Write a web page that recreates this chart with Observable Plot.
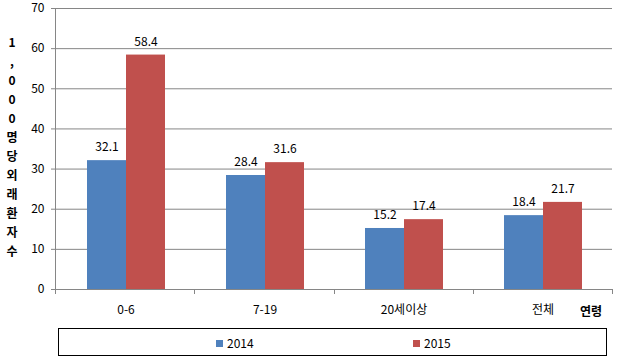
<!DOCTYPE html>
<html>
<head>
<meta charset="utf-8">
<script src="https://cdn.jsdelivr.net/npm/d3@7"></script>
<script src="https://cdn.jsdelivr.net/npm/@observablehq/plot@0.6"></script>
<style>
  body { margin: 0; background: #fff; }
  #wrap { position: relative; width: 618px; height: 361px; font-family: "Noto Sans CJK KR", "Noto Sans", sans-serif; }
  #ytitle { position: absolute; left: 4px; top: 32px; width: 16px; text-align: center; font-weight: bold; font-size: 12px; line-height: 19px; }
  #xlabel { position: absolute; left: 580px; top: 302px; font-weight: bold; font-size: 12px; }
  #legend { position: absolute; left: 58px; top: 328px; width: 549px; height: 28px; border: 1px solid #000; box-sizing: border-box; font-size: 12px; }
  .item { position: absolute; top: 6px; line-height: 16px; }
  .sw { display: inline-block; width: 7px; height: 7px; margin-right: 4px; vertical-align: 1px; }
</style>
</head>
<body>
<div id="wrap">
  <div id="chart"></div>
  <div id="ytitle"></div>
  <div id="xlabel"></div>
  <div id="legend"></div>
</div>
<script>
const categories = ["0-6", "7-19", "20세이상", "전체"];
const years = ["2014", "2015"];
const values2014 = [32.1, 28.4, 15.2, 18.4];
const values2015 = [58.4, 31.6, 17.4, 21.7];
const yTicks = [0, 10, 20, 30, 40, 50, 60, 70];
const colors = ["#4F81BD", "#C0504D"];
const yTitle = "1,000명당외래환자수";
const xTitle = "연령";

const data = categories.flatMap((c, i) => [
  {cat: c, year: years[0], value: values2014[i]},
  {cat: c, year: years[1], value: values2015[i]}
]);

const plot = Plot.plot({
  width: 618,
  height: 322,
  marginLeft: 55,
  marginRight: 6,
  marginTop: 8,
  marginBottom: 33,
  style: {fontFamily: "'Noto Sans CJK KR', 'Noto Sans', sans-serif", fontSize: "12px", background: "white", overflow: "visible"},
  fx: {domain: categories, padding: 0},
  x: {domain: years, paddingInner: 0, paddingOuter: 0.74, axis: null},
  y: {domain: [0, 70]},
  color: {domain: years, range: colors},
  marks: [
    Plot.gridY(yTicks, {stroke: "#868686", strokeOpacity: 1}),
    Plot.barY(data, {fx: "cat", x: "year", y: "value", fill: "year"}),
    Plot.text(data, {fx: "cat", x: "year", y: "value", text: d => d.value.toFixed(1), dy: -13, fill: "black", fontSize: 12}),
    Plot.axisY(yTicks, {tickSize: 5, tickPadding: 7, stroke: "#868686", fill: "black", label: null, fontSize: 12}),
    Plot.axisFx({anchor: "bottom", tickSize: 0, tickPadding: 16, label: null, fontSize: 12, fill: "black"})
  ]
});
document.getElementById("chart").appendChild(plot);

// axis lines and category boundary ticks from the plot's own scales
const fx = plot.scale("fx");
const y = plot.scale("y");
const y0 = y.apply(0), yTop = y.apply(70);
const left = fx.range[0], step = (fx.range[1] - fx.range[0]) / categories.length;
const g = d3.select(plot).append("g").attr("stroke", "#868686").attr("stroke-width", 1);
g.append("line").attr("x1", left + 0.5).attr("x2", left + 0.5).attr("y1", yTop).attr("y2", y0);
g.append("line").attr("x1", left).attr("x2", fx.range[1]).attr("y1", y0 + 0.5).attr("y2", y0 + 0.5);
d3.range(categories.length + 1).forEach(i => {
  const x = Math.round(left + i * step) + 0.5;
  g.append("line").attr("x1", x).attr("x2", x).attr("y1", y0).attr("y2", y0 + 5);
});

document.getElementById("ytitle").innerHTML = Array.from(yTitle).map(ch => `<div>${ch}</div>`).join("");
document.getElementById("xlabel").textContent = xTitle;
const legendPos = [157, 354];
document.getElementById("legend").innerHTML = years.map((yr, i) =>
  `<span class="item" style="left:${legendPos[i]}px"><span class="sw" style="background:${colors[i]}"></span>${yr}</span>`
).join("");
</script>
</body>
</html>
